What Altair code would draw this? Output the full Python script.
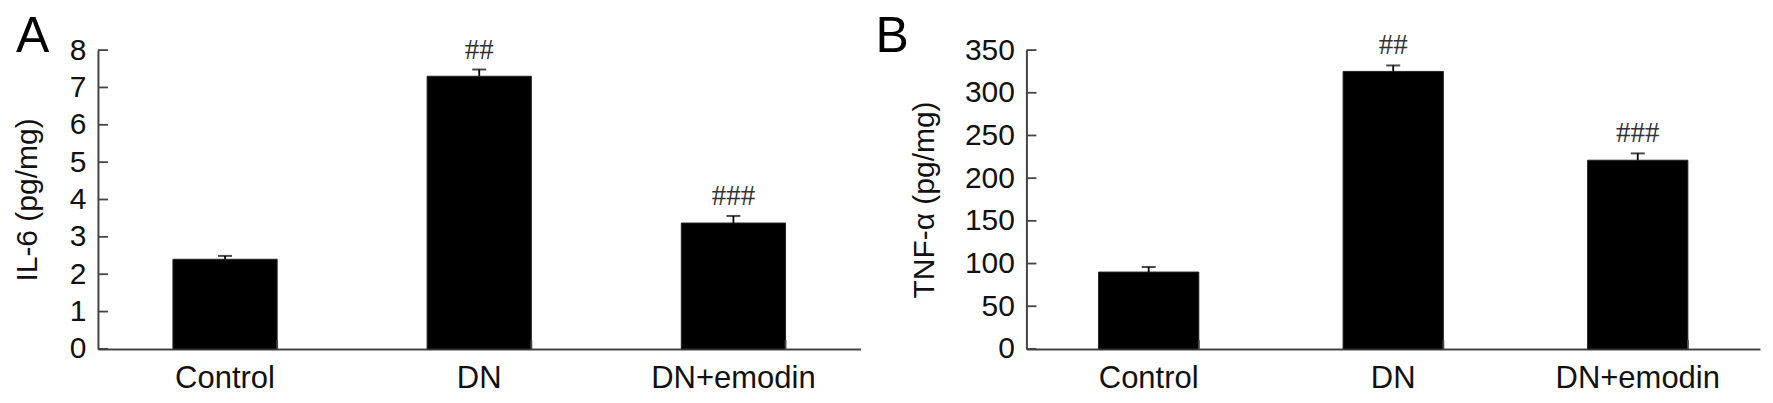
import altair as alt
import pandas as pd

categories = ["Control", "DN", "DN+emodin"]
il6_mean = [2.40, 7.30, 3.37]
il6_err = [0.09, 0.18, 0.19]
tnf_mean = [90, 325, 221]
tnf_err = [6, 7, 8]
sig_marks = ["", "##", "###"]
il6_ticks = [0, 1, 2, 3, 4, 5, 6, 7, 8]
tnf_ticks = [0, 50, 100, 150, 200, 250, 300, 350]

AXIS_COLOR = "#444444"
FONT = "Liberation Sans"


def panel(means, errs, ticks, ymax, ytitle, letter, width, height, title_x, letter_x):
    df = pd.DataFrame({
        "cat": categories,
        "mean": means,
        "top": [m + e for m, e in zip(means, errs)],
        "sig": sig_marks,
    })
    tick_df = pd.DataFrame({"v": ticks})
    xscale = alt.Scale(domain=categories, paddingInner=0.59, paddingOuter=0.295)
    xaxis = alt.Axis(title=None, labelAngle=0, ticks=False, domainColor=AXIS_COLOR,
                     domainWidth=2, labelFontSize=31, labelFont=FONT,
                     labelColor="#111111", labelPadding=15)
    yscale = alt.Scale(domain=[0, ymax], nice=False, zero=True)
    yaxis = alt.Axis(title=ytitle, values=ticks, ticks=False, grid=False,
                     domainColor=AXIS_COLOR, domainWidth=2, labelFontSize=30,
                     labelFont=FONT, labelColor="#111111", labelPadding=12,
                     titleFont=FONT, titleFontSize=30, titleFontWeight="normal",
                     titleColor="#111111", titleX=title_x, titleBaseline="bottom")

    def X(**kw):
        return alt.X("cat:N", scale=xscale, axis=xaxis, sort=categories, **kw)

    base = alt.Chart(df)
    bars = base.mark_bar(color="black", stroke="#222222", strokeWidth=1).encode(
        x=X(), y=alt.Y("mean:Q", scale=yscale, axis=yaxis))
    err = base.mark_rule(color="black", strokeWidth=1.8).encode(
        x=X(), y=alt.Y("mean:Q", scale=yscale, axis=yaxis), y2="top:Q")
    cap = base.mark_tick(color="black", size=14, thickness=2, orient="horizontal").encode(
        x=X(), y=alt.Y("top:Q", scale=yscale, axis=yaxis))
    sig = base.mark_text(font="Liberation Serif", fontSize=29, baseline="bottom",
                         dy=-5, color="#333333").encode(
        x=X(), y=alt.Y("top:Q", scale=yscale, axis=yaxis), text="sig:N")
    xt = base.mark_rule(color=AXIS_COLOR, strokeWidth=1.8).encode(
        x=X(bandPosition=1), y=alt.value(height), y2=alt.value(height - 9))
    yt = alt.Chart(tick_df).mark_rule(color=AXIS_COLOR, strokeWidth=1.8).encode(
        y=alt.Y("v:Q", scale=yscale, axis=yaxis), x=alt.value(0), x2=alt.value(10))
    lab = alt.Chart(pd.DataFrame({"t": [letter]})).mark_text(
        font=FONT, fontSize=50, align="left", baseline="alphabetic", color="black").encode(
        x=alt.value(letter_x), y=alt.value(2.3), text="t:N")
    return alt.layer(bars, err, cap, sig, xt, yt, lab).properties(width=width, height=height)


pa = panel(il6_mean, il6_err, il6_ticks, 8, "IL-6 (pg/mg)", "A", 763, 299, -55, -82)
pb = panel(tnf_mean, tnf_err, tnf_ticks, 350, "TNF-α (pg/mg)", "B", 734, 299, -87, -151)

chart = alt.hconcat(pa, pb, spacing=166, bounds="flush").configure_view(
    stroke=None).properties(padding={"left": 4, "top": 4, "right": 5, "bottom": 5})

chart.save("out.html", embed_options={"renderer": "svg", "actions": False})
